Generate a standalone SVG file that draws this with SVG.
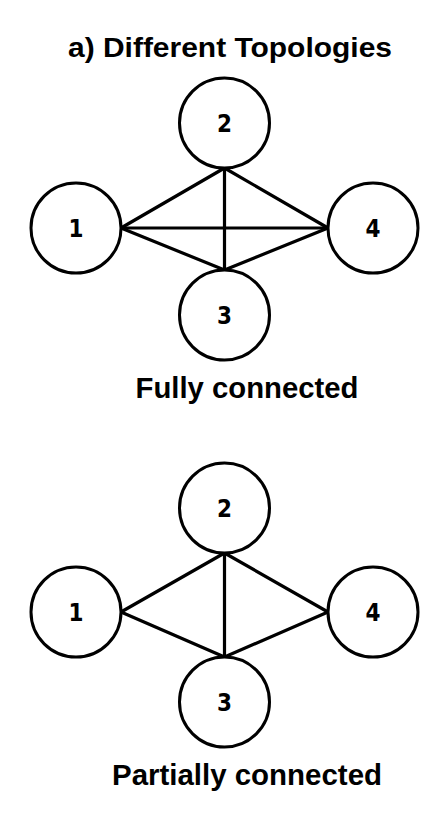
<svg xmlns="http://www.w3.org/2000/svg" width="448" height="821" viewBox="0 0 448 821">
<style>
.node circle{fill:#fff;stroke:#000;stroke-width:3}
.node text{font-family:"DejaVu Sans",sans-serif;font-weight:bold;font-size:25px;text-anchor:middle;fill:#000}
.edges line{stroke:#000;stroke-width:3.2;stroke-linecap:round}
.title{font-family:"Liberation Sans",Arial,sans-serif;font-weight:bold;fill:#000;text-anchor:middle}
</style>
<rect width="448" height="821" fill="#fff"/>
<text class="title" x="230" y="57" font-size="27.5" textLength="324" lengthAdjust="spacingAndGlyphs">a) Different Topologies</text>
<g class="edges" id="edges-top">
<line x1="121" y1="228" x2="224.5" y2="168"/>
<line x1="224.5" y1="168" x2="328" y2="228"/>
<line x1="121" y1="228" x2="328" y2="228"/>
<line x1="224.5" y1="168" x2="224.5" y2="270"/>
<line x1="121" y1="228" x2="224.5" y2="270"/>
<line x1="328" y1="228" x2="224.5" y2="270"/>
</g>
<g class="node" id="t1"><circle cx="76" cy="228" r="45"/><text x="76" y="237" textLength="15" lengthAdjust="spacingAndGlyphs">1</text></g>
<g class="node" id="t2"><circle cx="224.5" cy="123" r="45"/><text x="224.5" y="132" textLength="15" lengthAdjust="spacingAndGlyphs">2</text></g>
<g class="node" id="t3"><circle cx="224.5" cy="315" r="45"/><text x="224.5" y="324" textLength="15" lengthAdjust="spacingAndGlyphs">3</text></g>
<g class="node" id="t4"><circle cx="373" cy="228" r="45"/><text x="373" y="237" textLength="15" lengthAdjust="spacingAndGlyphs">4</text></g>
<text class="title" x="247" y="398" font-size="29" textLength="223" lengthAdjust="spacingAndGlyphs">Fully connected</text>
<g class="edges" id="edges-bottom">
<line x1="121" y1="612" x2="224.5" y2="553"/>
<line x1="224.5" y1="553" x2="328" y2="612"/>
<line x1="224.5" y1="553" x2="224.5" y2="657"/>
<line x1="121" y1="612" x2="224.5" y2="657"/>
<line x1="328" y1="612" x2="224.5" y2="657"/>
</g>
<g class="node" id="b1"><circle cx="76" cy="612" r="45"/><text x="76" y="621" textLength="15" lengthAdjust="spacingAndGlyphs">1</text></g>
<g class="node" id="b2"><circle cx="224.5" cy="508" r="45"/><text x="224.5" y="517" textLength="15" lengthAdjust="spacingAndGlyphs">2</text></g>
<g class="node" id="b3"><circle cx="224.5" cy="702" r="45"/><text x="224.5" y="711" textLength="15" lengthAdjust="spacingAndGlyphs">3</text></g>
<g class="node" id="b4"><circle cx="373" cy="612" r="45"/><text x="373" y="621" textLength="15" lengthAdjust="spacingAndGlyphs">4</text></g>
<text class="title" x="247" y="785" font-size="29" textLength="270" lengthAdjust="spacingAndGlyphs">Partially connected</text>
</svg>
